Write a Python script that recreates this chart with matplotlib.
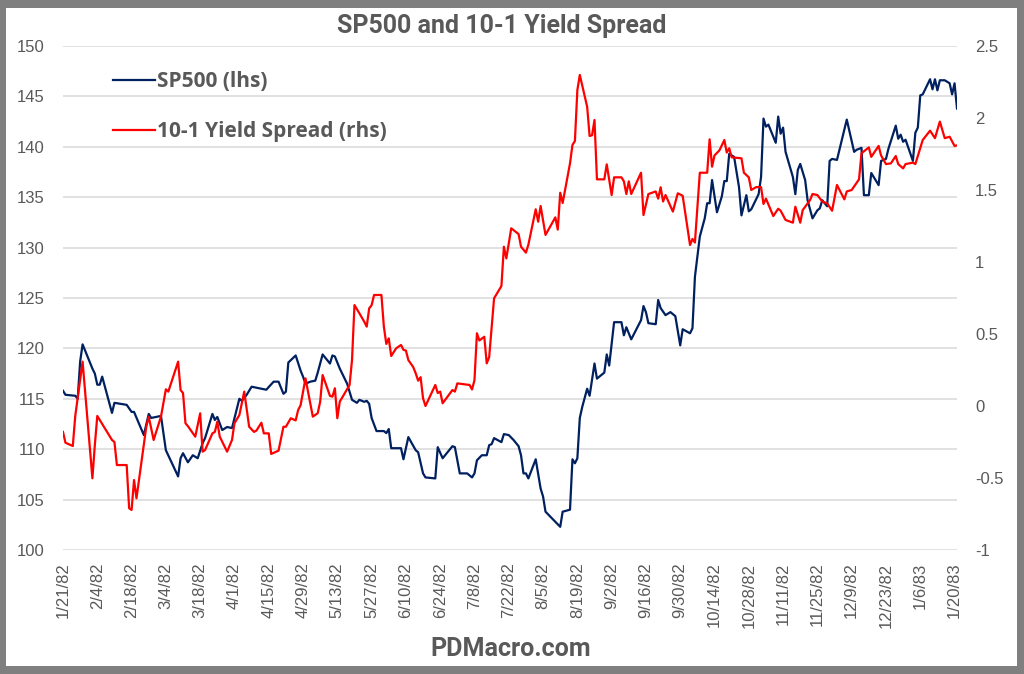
import matplotlib
matplotlib.use('Agg')
import matplotlib.pyplot as plt
import matplotlib.dates as mdates
from matplotlib.patches import Rectangle
from matplotlib.ticker import FuncFormatter
import pandas as pd

plt.rcParams['font.family'] = ['Liberation Sans', 'DejaVu Sans']

# SP500 closes
sp_dates = [
    '1982-01-21', '1982-01-22', '1982-01-26', '1982-01-27', '1982-01-28', '1982-01-29',
    '1982-02-02', '1982-02-03', '1982-02-04', '1982-02-05', '1982-02-06', '1982-02-10',
    '1982-02-11', '1982-02-16', '1982-02-18', '1982-02-19', '1982-02-23', '1982-02-25',
    '1982-02-26', '1982-03-02', '1982-03-04', '1982-03-09', '1982-03-10', '1982-03-11',
    '1982-03-13', '1982-03-15', '1982-03-17', '1982-03-19', '1982-03-20', '1982-03-23',
    '1982-03-24', '1982-03-25', '1982-03-27', '1982-03-29', '1982-03-31', '1982-04-03',
    '1982-04-04', '1982-04-06', '1982-04-08', '1982-04-14', '1982-04-17', '1982-04-19',
    '1982-04-21', '1982-04-22', '1982-04-23', '1982-04-26', '1982-04-28', '1982-04-29',
    '1982-04-30', '1982-05-02', '1982-05-04', '1982-05-05', '1982-05-07', '1982-05-10',
    '1982-05-11', '1982-05-12', '1982-05-14', '1982-05-17', '1982-05-19', '1982-05-21',
    '1982-05-22', '1982-05-24', '1982-05-25', '1982-05-26', '1982-05-27', '1982-05-29',
    '1982-06-01', '1982-06-02', '1982-06-03', '1982-06-04', '1982-06-08', '1982-06-09',
    '1982-06-11', '1982-06-14', '1982-06-15', '1982-06-17', '1982-06-18', '1982-06-22',
    '1982-06-23', '1982-06-25', '1982-06-29', '1982-06-30', '1982-07-02', '1982-07-05',
    '1982-07-07', '1982-07-08', '1982-07-09', '1982-07-11', '1982-07-13', '1982-07-14',
    '1982-07-15', '1982-07-16', '1982-07-19', '1982-07-20', '1982-07-22', '1982-07-24',
    '1982-07-26', '1982-07-27', '1982-07-28', '1982-07-29', '1982-07-30', '1982-08-02',
    '1982-08-04', '1982-08-05', '1982-08-06', '1982-08-12', '1982-08-13', '1982-08-16',
    '1982-08-17', '1982-08-18', '1982-08-19', '1982-08-20', '1982-08-21', '1982-08-23',
    '1982-08-24', '1982-08-26', '1982-08-27', '1982-08-30', '1982-08-31', '1982-09-01',
    '1982-09-03', '1982-09-06', '1982-09-07', '1982-09-08', '1982-09-10', '1982-09-14',
    '1982-09-15', '1982-09-16', '1982-09-17', '1982-09-20', '1982-09-21', '1982-09-22',
    '1982-09-24', '1982-09-26', '1982-09-28', '1982-09-30', '1982-10-01', '1982-10-04',
    '1982-10-05', '1982-10-06', '1982-10-08', '1982-10-10', '1982-10-11', '1982-10-12',
    '1982-10-13', '1982-10-15', '1982-10-17', '1982-10-18', '1982-10-19', '1982-10-20',
    '1982-10-22', '1982-10-24', '1982-10-25', '1982-10-27', '1982-10-28', '1982-10-29',
    '1982-11-01', '1982-11-02', '1982-11-03', '1982-11-04', '1982-11-05', '1982-11-08',
    '1982-11-09', '1982-11-10', '1982-11-11', '1982-11-12', '1982-11-15', '1982-11-16',
    '1982-11-17', '1982-11-18', '1982-11-20', '1982-11-21', '1982-11-23', '1982-11-25',
    '1982-11-26', '1982-11-27', '1982-11-29', '1982-11-30', '1982-12-01', '1982-12-03',
    '1982-12-07', '1982-12-10', '1982-12-11', '1982-12-13', '1982-12-14', '1982-12-16',
    '1982-12-17', '1982-12-20', '1982-12-21', '1982-12-23', '1982-12-24', '1982-12-27',
    '1982-12-28', '1982-12-29', '1982-12-30', '1982-12-31', '1983-01-03', '1983-01-04',
    '1983-01-05', '1983-01-06', '1983-01-07', '1983-01-10', '1983-01-11', '1983-01-12',
    '1983-01-13', '1983-01-14', '1983-01-16', '1983-01-18', '1983-01-19', '1983-01-20',
    '1983-01-21',
]
sp_vals = [
    115.8, 115.4, 115.3, 115.0, 118.7, 120.4,
    118.0, 117.5, 116.4, 116.4, 117.2, 113.6,
    114.6, 114.4, 113.7, 113.7, 111.4, 113.5,
    113.1, 113.3, 109.9, 107.3, 109.1, 109.6,
    108.7, 109.4, 109.1, 110.6, 111.1, 113.5,
    112.9, 113.2, 111.9, 112.2, 112.1, 115.0,
    114.8, 115.4, 116.2, 115.9, 116.7, 116.7,
    115.5, 115.7, 118.6, 119.3, 117.8, 117.2,
    116.5, 116.7, 116.8, 117.6, 119.4, 118.5,
    119.3, 119.2, 118.0, 116.5, 114.9, 114.6,
    114.9, 114.7, 114.8, 114.5, 113.1, 111.8,
    111.8, 111.6, 112.0, 110.1, 110.1, 109.0,
    111.2, 109.9, 109.7, 107.6, 107.2, 107.1,
    110.2, 109.1, 110.3, 110.2, 107.6, 107.6,
    107.2, 107.6, 108.9, 109.4, 109.4, 110.4,
    110.5, 111.1, 110.7, 111.5, 111.4, 110.9,
    110.3, 109.4, 107.6, 107.6, 107.1, 109.0,
    106.1, 105.3, 103.8, 102.3, 103.8, 104.0,
    109.0, 108.6, 109.1, 113.1, 114.2, 116.0,
    115.3, 118.5, 117.0, 117.6, 119.4, 118.3,
    122.6, 122.6, 121.3, 122.1, 120.9, 122.8,
    124.2, 123.6, 122.5, 122.4, 124.8, 124.0,
    123.3, 123.6, 123.2, 120.3, 121.9, 121.5,
    122.0, 127.1, 131.1, 132.9, 134.4, 134.4,
    136.7, 133.5, 135.1, 136.6, 136.6, 139.3,
    139.0, 136.0, 133.2, 135.2, 133.6, 133.8,
    135.3, 137.0, 142.8, 142.0, 142.2, 140.4,
    143.0, 141.3, 141.9, 139.5, 137.0, 135.3,
    137.7, 138.3, 136.7, 134.7, 132.9, 133.7,
    133.9, 134.7, 134.1, 138.6, 138.8, 138.7,
    142.7, 139.5, 139.7, 139.9, 135.2, 135.2,
    137.4, 136.2, 138.6, 138.8, 139.8, 142.1,
    140.8, 141.2, 140.5, 140.7, 138.6, 141.4,
    141.9, 145.1, 145.2, 146.7, 145.7, 146.7,
    145.6, 146.6, 146.6, 146.3, 145.2, 146.3,
    143.8,
]

# 10yr minus 1yr yield spread (pct points)
spread_dates = [
    '1982-01-21', '1982-01-22', '1982-01-25', '1982-01-26', '1982-01-29', '1982-02-02',
    '1982-02-03', '1982-02-04', '1982-02-10', '1982-02-11', '1982-02-12', '1982-02-16',
    '1982-02-17', '1982-02-18', '1982-02-19', '1982-02-20', '1982-02-24', '1982-02-25',
    '1982-02-27', '1982-03-02', '1982-03-04', '1982-03-05', '1982-03-09', '1982-03-10',
    '1982-03-11', '1982-03-12', '1982-03-13', '1982-03-16', '1982-03-18', '1982-03-19',
    '1982-03-20', '1982-03-23', '1982-03-24', '1982-03-25', '1982-03-26', '1982-03-29',
    '1982-03-31', '1982-04-01', '1982-04-03', '1982-04-05', '1982-04-07', '1982-04-09',
    '1982-04-10', '1982-04-12', '1982-04-13', '1982-04-15', '1982-04-16', '1982-04-19',
    '1982-04-21', '1982-04-22', '1982-04-24', '1982-04-26', '1982-04-27', '1982-04-28',
    '1982-04-30', '1982-05-03', '1982-05-05', '1982-05-06', '1982-05-07', '1982-05-10',
    '1982-05-11', '1982-05-12', '1982-05-13', '1982-05-14', '1982-05-18', '1982-05-19',
    '1982-05-20', '1982-05-22', '1982-05-24', '1982-05-25', '1982-05-26', '1982-05-27',
    '1982-05-28', '1982-05-31', '1982-06-01', '1982-06-02', '1982-06-03', '1982-06-04',
    '1982-06-06', '1982-06-08', '1982-06-09', '1982-06-10', '1982-06-11', '1982-06-13',
    '1982-06-14', '1982-06-15', '1982-06-16', '1982-06-17', '1982-06-18', '1982-06-22',
    '1982-06-23', '1982-06-24', '1982-06-25', '1982-06-29', '1982-06-30', '1982-07-01',
    '1982-07-06', '1982-07-07', '1982-07-08', '1982-07-09', '1982-07-10', '1982-07-12',
    '1982-07-13', '1982-07-14', '1982-07-16', '1982-07-19', '1982-07-20', '1982-07-21',
    '1982-07-23', '1982-07-26', '1982-07-27', '1982-07-29', '1982-07-30', '1982-08-02',
    '1982-08-03', '1982-08-04', '1982-08-06', '1982-08-10', '1982-08-11', '1982-08-12',
    '1982-08-13', '1982-08-16', '1982-08-17', '1982-08-18', '1982-08-19', '1982-08-20',
    '1982-08-23', '1982-08-24', '1982-08-25', '1982-08-26', '1982-08-27', '1982-08-30',
    '1982-08-31', '1982-09-02', '1982-09-03', '1982-09-06', '1982-09-07', '1982-09-08',
    '1982-09-09', '1982-09-10', '1982-09-14', '1982-09-15', '1982-09-17', '1982-09-20',
    '1982-09-21', '1982-09-22', '1982-09-23', '1982-09-24', '1982-09-27', '1982-09-29',
    '1982-10-01', '1982-10-04', '1982-10-05', '1982-10-06', '1982-10-08', '1982-10-11',
    '1982-10-12', '1982-10-13', '1982-10-14', '1982-10-16', '1982-10-18', '1982-10-19',
    '1982-10-20', '1982-10-21', '1982-10-25', '1982-10-26', '1982-10-28', '1982-10-29',
    '1982-10-31', '1982-11-02', '1982-11-03', '1982-11-04', '1982-11-07', '1982-11-09',
    '1982-11-10', '1982-11-12', '1982-11-15', '1982-11-16', '1982-11-18', '1982-11-19',
    '1982-11-22', '1982-11-23', '1982-11-25', '1982-11-27', '1982-11-29', '1982-12-01',
    '1982-12-03', '1982-12-06', '1982-12-07', '1982-12-09', '1982-12-12', '1982-12-13',
    '1982-12-16', '1982-12-17', '1982-12-20', '1982-12-21', '1982-12-23', '1982-12-25',
    '1982-12-27', '1982-12-28', '1982-12-30', '1982-12-31', '1983-01-03', '1983-01-04',
    '1983-01-07', '1983-01-10', '1983-01-12', '1983-01-14', '1983-01-16', '1983-01-18',
    '1983-01-20', '1983-01-21',
]
spread_vals = [
    -0.18, -0.255, -0.278, -0.07, 0.308, -0.502,
    -0.271, -0.069, -0.236, -0.25, -0.41, -0.41,
    -0.71, -0.722, -0.514, -0.641, -0.144, -0.074,
    -0.236, -0.074, 0.116, 0.10, 0.308, 0.111,
    0.09, -0.12, -0.14, -0.213, -0.051, -0.317,
    -0.306, -0.19, -0.18, -0.109, -0.213, -0.317,
    -0.236, -0.12, -0.063, 0.10, -0.144, -0.18,
    -0.17, -0.116, -0.19, -0.19, -0.333, -0.31,
    -0.144, -0.144, -0.085, -0.10, -0.028, 0.005,
    0.192, -0.074, -0.05, 0.03, 0.215, 0.07,
    0.065, 0.123, -0.085, 0.03, 0.146, 0.319,
    0.701, 0.644, 0.585, 0.551, 0.678, 0.70,
    0.771, 0.771, 0.551, 0.431, 0.47, 0.347,
    0.40, 0.424, 0.39, 0.385, 0.319, 0.27,
    0.227, 0.176, 0.20, 0.053, 0.0, 0.146,
    0.09, 0.10, 0.019, 0.111, 0.10, 0.157,
    0.146, 0.115, 0.18, 0.505, 0.455, 0.481,
    0.296, 0.34, 0.748, 0.833, 1.106, 1.025,
    1.234, 1.194, 1.106, 1.065, 1.12, 1.366,
    1.28, 1.389, 1.188, 1.31, 1.225, 1.481,
    1.41, 1.685, 1.813, 1.84, 2.194, 2.299,
    2.078, 1.875, 1.88, 1.986, 1.574, 1.574,
    1.678, 1.465, 1.588, 1.588, 1.56, 1.472,
    1.56, 1.472, 1.62, 1.326, 1.472, 1.49,
    1.44, 1.519, 1.42, 1.465, 1.35, 1.477,
    1.46, 1.118, 1.16, 1.135, 1.62, 1.62,
    1.852, 1.662, 1.74, 1.775, 1.847, 1.76,
    1.79, 1.727, 1.72, 1.62, 1.588, 1.50,
    1.52, 1.52, 1.403, 1.44, 1.319, 1.37,
    1.356, 1.292, 1.273, 1.384, 1.273, 1.36,
    1.43, 1.472, 1.465, 1.42, 1.407, 1.356,
    1.535, 1.435, 1.49, 1.50, 1.574, 1.755,
    1.796, 1.73, 1.806, 1.74, 1.68, 1.685,
    1.736, 1.68, 1.65, 1.68, 1.69, 1.68,
    1.847, 1.912, 1.86, 1.975, 1.86, 1.87,
    1.806, 1.81,
]

left_ticks = [100, 105, 110, 115, 120, 125, 130, 135, 140, 145, 150]
right_ticks = [-1, -0.5, 0, 0.5, 1, 1.5, 2, 2.5]
right_labels = ['-1', '-0.5', '0', '0.5', '1', '1.5', '2', '2.5']

grey_txt = '#595959'
W, H = 1024, 674

fig = plt.figure(figsize=(W / 100, H / 100), dpi=100)
fig.patch.set_facecolor('#7f7f7f')
# white chart area inside the grey frame, kept behind the axes
fig.patches.append(Rectangle((6 / W, 8 / H), 1011 / W, 658 / H, transform=fig.transFigure,
                             facecolor='white', edgecolor='none', zorder=-10))

ax1 = fig.add_axes([63 / W, (H - 550) / H, (957 - 63) / W, (550 - 46) / H])
ax1.set_facecolor('none')
ax2 = ax1.twinx()

sp_x = pd.to_datetime(sp_dates)
spread_x = pd.to_datetime(spread_dates)

line_sp, = ax1.plot(sp_x, sp_vals, color='#002060', lw=1.6, label='SP500 (lhs)', zorder=3)
line_spread, = ax2.plot(spread_x, spread_vals, color='#ff0000', lw=1.6,
                        label='10-1 Yield Spread (rhs)', zorder=3)

ax1.set_ylim(100, 150)
ax1.set_yticks(left_ticks)
ax2.set_ylim(-1, 2.5)
ax2.set_yticks(right_ticks)
ax2.set_yticklabels(right_labels)
ax1.set_xlim(pd.Timestamp('1982-01-21'), pd.Timestamp('1983-01-21'))

xt = pd.date_range('1982-01-21', '1983-01-20', freq='14D')
ax1.set_xticks(xt)
ax1.xaxis.set_major_formatter(FuncFormatter(
    lambda v, pos: '{}/{}/{}'.format(mdates.num2date(v).month, mdates.num2date(v).day,
                                     mdates.num2date(v).strftime('%y'))))

ax1.grid(axis='y', color='#d9d9d9', lw=1.1)
ax1.set_axisbelow(True)
for a in (ax1, ax2):
    for s in a.spines.values():
        s.set_visible(False)
    a.tick_params(length=0, colors=grey_txt, labelsize=12)
ax1.tick_params(axis='y', pad=13)
ax2.tick_params(axis='y', pad=13)
ax1.tick_params(axis='x', pad=9, labelrotation=90)

fig.text(0.49, 1 - 26 / H, 'SP500 and 10-1 Yield Spread', ha='center', va='center',
         fontsize=18, fontweight='bold', color=grey_txt, family=['Roboto', 'DejaVu Sans'])
fig.text(0.499, 1 - 649 / H, 'PDMacro.com', ha='center', va='center',
         fontsize=18, fontweight='bold', color=grey_txt, family=['Roboto', 'DejaVu Sans'])

leg = ax1.legend(handles=[line_sp, line_spread], loc='upper left',
                 bbox_to_anchor=(113 / W, 1 - 71 / H), bbox_transform=fig.transFigure,
                 frameon=False, borderpad=0, borderaxespad=0, handlelength=2.0,
                 handletextpad=0.12, labelspacing=1.4,
                 prop={'weight': 'bold', 'size': 15, 'family': ['Open Sans', 'DejaVu Sans']})
for t in leg.get_texts():
    t.set_color(grey_txt)

fig.savefig('out.png', dpi=100, facecolor=fig.get_facecolor())
